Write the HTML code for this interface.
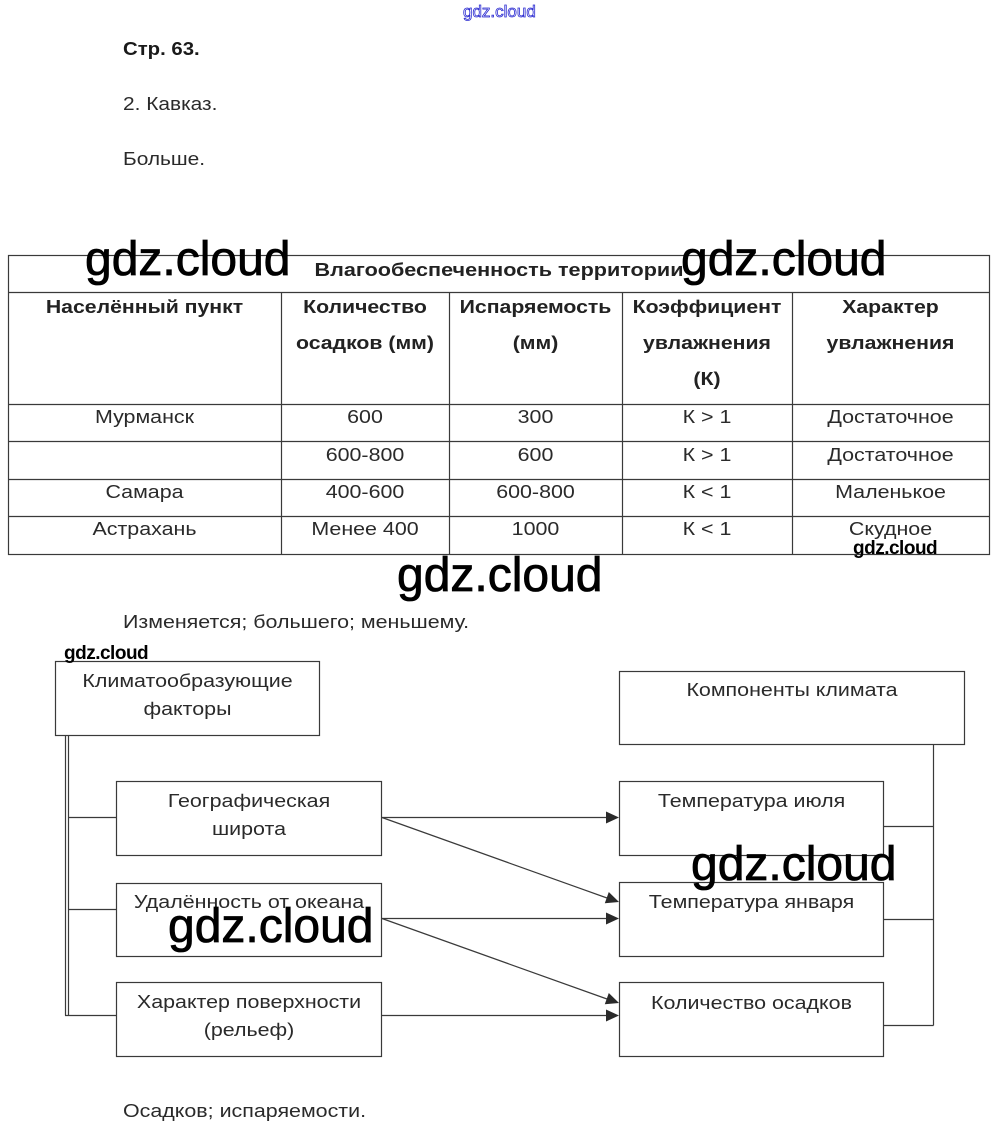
<!DOCTYPE html>
<html>
<head>
<meta charset="utf-8">
<style>
  html, body { margin:0; padding:0; background:#fff; }
  body { width:1000px; height:1138px; position:relative; overflow:hidden;
         font-family:"Liberation Sans", Arial, sans-serif; color:#222; }
  .t { position:absolute; white-space:nowrap; }
  .c { text-align:center; transform-origin:50% 50%; }
  .l { transform-origin:0 50%; }
  .hd { font-weight:bold; font-size:18px; line-height:36px; color:#222; transform:scaleX(1.18); }
  .bd { font-size:18px; line-height:24px; color:#2a2a2a; transform:scaleX(1.19); }
  .dg { font-size:18px; line-height:28px; color:#2a2a2a; transform:scaleX(1.19); }
  .wm { position:absolute; font-family:"Liberation Sans", Arial, sans-serif; font-size:48px; line-height:48px; color:#000; white-space:nowrap; -webkit-text-stroke:0.8px #000; }
  .wms { position:absolute; font-family:"Liberation Sans", Arial, sans-serif; font-weight:bold; font-size:19px; line-height:19px; letter-spacing:-0.5px; color:#000; white-space:nowrap; }
</style>
</head>
<body>

<svg width="1000" height="1138" style="position:absolute;left:0;top:0" xmlns="http://www.w3.org/2000/svg">
  <g stroke="#3a3a3a" stroke-width="1.2" fill="none">
    <!-- table -->
    <rect x="8.5" y="255.5" width="981" height="299"/>
    <line x1="8" y1="292.5" x2="990" y2="292.5"/>
    <line x1="8" y1="404.5" x2="990" y2="404.5"/>
    <line x1="8" y1="441.5" x2="990" y2="441.5"/>
    <line x1="8" y1="479.5" x2="990" y2="479.5"/>
    <line x1="8" y1="516.5" x2="990" y2="516.5"/>
    <line x1="281.5" y1="292" x2="281.5" y2="554"/>
    <line x1="449.5" y1="292" x2="449.5" y2="554"/>
    <line x1="622.5" y1="292" x2="622.5" y2="554"/>
    <line x1="792.5" y1="292" x2="792.5" y2="554"/>

    <!-- diagram boxes -->
    <rect x="55.5" y="661.5" width="264" height="74"/>
    <rect x="116.5" y="781.5" width="265" height="74"/>
    <rect x="116.5" y="883.5" width="265" height="73"/>
    <rect x="116.5" y="982.5" width="265" height="74"/>
    <rect x="619.5" y="671.5" width="345" height="73"/>
    <rect x="619.5" y="781.5" width="264" height="74"/>
    <rect x="619.5" y="882.5" width="264" height="74"/>
    <rect x="619.5" y="982.5" width="264" height="74"/>

    <!-- left double line -->
    <line x1="65.5" y1="735" x2="65.5" y2="1015.5"/>
    <line x1="68.5" y1="735" x2="68.5" y2="1015.5"/>
    <line x1="65" y1="1015.5" x2="116" y2="1015.5"/>
    <line x1="68" y1="817.5" x2="116" y2="817.5"/>
    <line x1="68" y1="909.5" x2="116" y2="909.5"/>

    <!-- right connectors -->
    <line x1="933.5" y1="744" x2="933.5" y2="1025.5"/>
    <line x1="884" y1="826.5" x2="933.5" y2="826.5"/>
    <line x1="884" y1="919.5" x2="933.5" y2="919.5"/>
    <line x1="884" y1="1025.5" x2="933.5" y2="1025.5"/>

    <!-- arrows lines -->
    <line x1="382" y1="817.5" x2="607" y2="817.5"/>
    <line x1="382" y1="817.5" x2="607" y2="898"/>
    <line x1="382" y1="918.5" x2="607" y2="918.5"/>
    <line x1="382" y1="918.5" x2="607" y2="999"/>
    <line x1="382" y1="1015.5" x2="607" y2="1015.5"/>
  </g>
  <g fill="#2a2a2a" stroke="none">
    <polygon points="619,817.5 606,811.5 606,823.5"/>
    <polygon points="619,918.5 606,912.5 606,924.5"/>
    <polygon points="619,1015.5 606,1009.5 606,1021.5"/>
    <polygon points="619,902 604.8,903.2 608.8,892"/>
    <polygon points="619,1003 604.8,1004.2 608.8,993"/>
  </g>
</svg>

<!-- top blue watermark -->
<div class="t" style="left:463px;top:2px;font-size:17px;line-height:19px;color:#fff;-webkit-text-stroke:0.8px #2a2ad0;">gdz.cloud</div>

<!-- intro text -->
<div class="t l" style="left:123px;top:37px;font-size:18px;line-height:24px;font-weight:bold;color:#1a1a1a;transform:scaleX(1.13);">Стр. 63.</div>
<div class="t l" style="left:123px;top:92px;font-size:18px;line-height:24px;color:#2a2a2a;transform:scaleX(1.16);">2. Кавказ.</div>
<div class="t l" style="left:123px;top:147px;font-size:18px;line-height:24px;color:#2a2a2a;transform:scaleX(1.16);">Больше.</div>

<!-- table title -->
<div class="t c" style="left:8px;width:982px;top:257px;font-weight:bold;font-size:18px;line-height:26px;color:#222;transform:scaleX(1.2);">Влагообеспеченность территории</div>

<!-- table header -->
<div class="t c hd" style="left:8px;width:273px;top:289px;">Населённый пункт</div>
<div class="t c hd" style="left:281px;width:168px;top:289px;">Количество<br>осадков (мм)</div>
<div class="t c hd" style="left:449px;width:173px;top:289px;">Испаряемость<br>(мм)</div>
<div class="t c hd" style="left:622px;width:170px;top:289px;">Коэффициент<br>увлажнения<br>(К)</div>
<div class="t c hd" style="left:792px;width:197px;top:289px;">Характер<br>увлажнения</div>

<!-- table rows -->
<div class="t c bd" style="left:8px;width:273px;top:405px;">Мурманск</div>
<div class="t c bd" style="left:281px;width:168px;top:405px;">600</div>
<div class="t c bd" style="left:449px;width:173px;top:405px;">300</div>
<div class="t c bd" style="left:622px;width:170px;top:405px;">К &gt; 1</div>
<div class="t c bd" style="left:792px;width:197px;top:405px;">Достаточное</div>

<div class="t c bd" style="left:281px;width:168px;top:443px;">600-800</div>
<div class="t c bd" style="left:449px;width:173px;top:443px;">600</div>
<div class="t c bd" style="left:622px;width:170px;top:443px;">К &gt; 1</div>
<div class="t c bd" style="left:792px;width:197px;top:443px;">Достаточное</div>

<div class="t c bd" style="left:8px;width:273px;top:480px;">Самара</div>
<div class="t c bd" style="left:281px;width:168px;top:480px;">400-600</div>
<div class="t c bd" style="left:449px;width:173px;top:480px;">600-800</div>
<div class="t c bd" style="left:622px;width:170px;top:480px;">К &lt; 1</div>
<div class="t c bd" style="left:792px;width:197px;top:480px;">Маленькое</div>

<div class="t c bd" style="left:8px;width:273px;top:517px;">Астрахань</div>
<div class="t c bd" style="left:281px;width:168px;top:517px;">Менее 400</div>
<div class="t c bd" style="left:449px;width:173px;top:517px;">1000</div>
<div class="t c bd" style="left:622px;width:170px;top:517px;">К &lt; 1</div>
<div class="t c bd" style="left:792px;width:197px;top:517px;">Скудное</div>

<!-- text below table -->
<div class="t l" style="left:123px;top:610px;font-size:18px;line-height:24px;color:#2a2a2a;transform:scaleX(1.19);">Изменяется; большего; меньшему.</div>

<!-- diagram texts -->
<div class="t c dg" style="left:55px;width:265px;top:667px;">Климатообразующие<br>факторы</div>
<div class="t c dg" style="left:619px;width:346px;top:676px;">Компоненты климата</div>
<div class="t c dg" style="left:116px;width:266px;top:787px;">Географическая<br>широта</div>
<div class="t c dg" style="left:619px;width:265px;top:787px;">Температура июля</div>
<div class="t c dg" style="left:116px;width:266px;top:888px;">Удалённость от океана</div>
<div class="t c dg" style="left:619px;width:265px;top:888px;">Температура января</div>
<div class="t c dg" style="left:116px;width:266px;top:988px;">Характер поверхности<br>(рельеф)</div>
<div class="t c dg" style="left:619px;width:265px;top:989px;">Количество осадков</div>

<div class="t l" style="left:123px;top:1099px;font-size:18px;line-height:24px;color:#2a2a2a;transform:scaleX(1.19);">Осадков; испаряемости.</div>

<!-- watermarks -->
<div class="wm" style="left:85px;top:236px;">gdz.cloud</div>
<div class="wm" style="left:681px;top:236px;">gdz.cloud</div>
<div class="wm" style="left:397px;top:552px;">gdz.cloud</div>
<div class="wm" style="left:691px;top:841px;">gdz.cloud</div>
<div class="wm" style="left:168px;top:903px;">gdz.cloud</div>
<div class="wms" style="left:853px;top:539px;">gdz.cloud</div>
<div class="wms" style="left:64px;top:644px;">gdz.cloud</div>

</body>
</html>
